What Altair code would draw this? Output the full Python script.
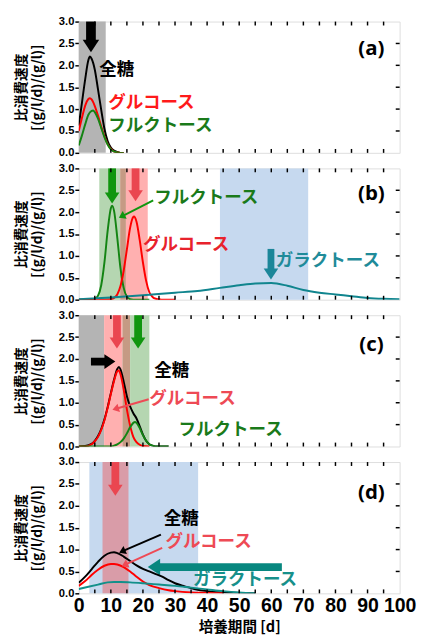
import math
import altair as alt
import pandas as pd

# ---------------- data ----------------
X_LABELS = [0, 10, 20, 30, 40, 50, 60, 70, 80, 90, 100]
X_TICKS = [5, 10, 15, 20, 25, 30, 35, 40, 45, 50, 55, 60, 65, 70, 75, 80, 85, 90, 95]
Y_TICKS = [0.0, 0.5, 1.0, 1.5, 2.0, 2.5, 3.0]
Y_TITLE = ["比消費速度", "[(g/l/d)/(g/l)]"]
X_TITLE = "培養期間 [d]"
PANEL_TAGS = ["(a)", "(b)", "(c)", "(d)"]

# panel (a)
a_total_x = [0, 1, 2, 3, 3.5, 4, 5, 6, 7, 8, 9, 10, 11, 12, 13, 14]
a_total_y = [0.62, 1.15, 1.68, 2.12, 2.2, 2.15, 1.9, 1.45, 0.98, 0.55, 0.27, 0.12, 0.05, 0.02, 0.0, 0.0]
a_glc_x = [0, 1, 2, 3, 3.5, 4, 5, 6, 7, 8, 9, 10, 11, 12, 13, 14]
a_glc_y = [0.5, 0.8, 1.08, 1.23, 1.25, 1.22, 1.07, 0.85, 0.6, 0.38, 0.2, 0.09, 0.03, 0.01, 0.0, 0.0]
a_fru_x = [0, 1, 2, 3, 4, 4.5, 5, 6, 7, 8, 9, 10, 11, 12, 13, 14]
a_fru_y = [0.17, 0.4, 0.65, 0.87, 0.96, 0.97, 0.93, 0.78, 0.57, 0.36, 0.19, 0.08, 0.03, 0.01, 0.0, 0.0]

# panel (b)
b_fru_x = [0, 4, 5, 6, 7, 8, 9, 10, 10.4, 11, 12, 13, 14, 15, 16, 17, 18, 22]
b_fru_y = [0.0, 0.0, 0.02, 0.09, 0.33, 0.85, 1.57, 2.09, 2.15, 2.03, 1.42, 0.72, 0.27, 0.07, 0.01, 0.0, 0.0, 0.0]
b_glc_x = [0, 8, 10, 11, 12, 13, 14, 15, 16, 17, 17.2, 18, 19, 20, 21, 22, 23, 24, 25, 26, 30]
b_glc_y = [0.0, 0.0, 0.01, 0.04, 0.12, 0.31, 0.66, 1.15, 1.64, 1.89, 1.9, 1.78, 1.36, 0.85, 0.43, 0.17, 0.06, 0.02, 0.01, 0.0, 0.0]
b_gal_x = [0, 10, 20, 30, 37, 44, 50, 55, 60, 65, 70, 75, 80, 85, 90, 95, 100]
b_gal_y = [0.01, 0.05, 0.1, 0.16, 0.2, 0.27, 0.33, 0.37, 0.38, 0.32, 0.22, 0.16, 0.12, 0.08, 0.04, 0.02, 0.01]

# panel (c)
c_total_x = [0, 2, 4, 5, 6, 7, 8, 9, 10, 11, 12, 12.5, 13, 14, 15, 16, 17, 18, 19, 20, 21, 22, 23, 24, 28]
c_total_y = [0.0, 0.01, 0.06, 0.13, 0.24, 0.4, 0.62, 0.9, 1.22, 1.53, 1.77, 1.82, 1.76, 1.48, 1.15, 0.92, 0.76, 0.64, 0.46, 0.27, 0.13, 0.05, 0.02, 0.0, 0.0]
c_glc_x = [0, 2, 4, 5, 6, 7, 8, 9, 10, 11, 12, 12.5, 13, 14, 15, 16, 17, 18, 19, 20, 22]
c_glc_y = [0.0, 0.0, 0.05, 0.12, 0.22, 0.38, 0.6, 0.88, 1.2, 1.5, 1.72, 1.74, 1.65, 1.3, 0.85, 0.48, 0.22, 0.1, 0.04, 0.01, 0.0]
c_fru_x = [0, 10, 11, 12, 13, 14, 15, 16, 17, 17.5, 18, 19, 20, 21, 22, 23, 24, 28]
c_fru_y = [0.0, 0.0, 0.02, 0.05, 0.1, 0.18, 0.3, 0.44, 0.54, 0.56, 0.54, 0.42, 0.26, 0.13, 0.05, 0.02, 0.0, 0.0]

# panel (d)
d_total_x = [0, 2, 4, 6, 8, 10, 11, 12, 14, 16, 18, 20, 22, 24, 26, 28, 30, 33, 36, 40, 45, 50, 55]
d_total_y = [0.24, 0.38, 0.55, 0.72, 0.86, 0.93, 0.94, 0.92, 0.84, 0.74, 0.64, 0.56, 0.5, 0.44, 0.38, 0.3, 0.23, 0.16, 0.1, 0.05, 0.02, 0.01, 0.0]
d_glc_x = [0, 2, 4, 6, 8, 10, 11, 12, 14, 16, 18, 20, 22, 25, 28, 30, 35, 40, 45]
d_glc_y = [0.17, 0.28, 0.42, 0.54, 0.63, 0.67, 0.67, 0.66, 0.6, 0.5, 0.38, 0.27, 0.19, 0.12, 0.07, 0.05, 0.02, 0.01, 0.0]
d_gal_x = [0, 3, 6, 9, 11, 13, 16, 20, 25, 30, 35, 40, 45, 50, 55]
d_gal_y = [0.1, 0.15, 0.2, 0.25, 0.26, 0.26, 0.25, 0.23, 0.2, 0.17, 0.13, 0.09, 0.05, 0.02, 0.0]

# shaded periods: (start, end, kind)
a_bands = [(0, 8.4, "grey")]
b_bands = [(6.4, 12.9, "green"), (12.9, 14.7, "mix"), (14.7, 21.5, "red"), (44, 71.5, "blue")]
c_bands = [(0, 7.9, "grey"), (7.9, 13.6, "red"), (13.6, 16.0, "mix"), (16.0, 22.0, "green")]
d_bands = [(3.3, 37.2, "blue"), (7.4, 15.5, "mauve")]

# block arrows: (tail x, tail y, tip x, tip y, kind)
a_blocks = [(3.8, 3.0, 3.8, 2.3, "black")]
b_blocks = [(10.4, 3.0, 10.4, 2.2, "green"), (17.7, 3.0, 17.7, 2.25, "red"), (59.9, 1.16, 59.9, 0.46, "tealb")]
c_blocks = [(3.8, 1.94, 11.4, 1.94, "black"), (11.9, 3.0, 11.9, 2.24, "red"), (18.5, 3.0, 18.5, 2.24, "green")]
d_blocks = [(11.4, 3.0, 11.4, 2.23, "red"), (63.3, 0.6, 21.5, 0.6, "teald")]

# thin pointer arrows: (tail x, tail y, tip x, tip y, kind)
a_thin = []
b_thin = [(23.2, 2.27, 12.5, 1.87, "green")]
c_thin = [(21.8, 1.08, 10.5, 0.84, "pink")]
d_thin = [(25.6, 1.34, 12.6, 0.93, "black"), (26.0, 1.04, 13.4, 0.62, "pink")]

# labels: (text, left x, centre y, kind)
a_labels = [("全糖", 6.4, 1.88, "black"), ("グルコース", 9.2, 1.13, "red"), ("フルクトース", 9.2, 0.6, "green")]
b_labels = [("フルクトース", 23.5, 2.31, "green"), ("グルコース", 20.0, 1.24, "red2"), ("ガラクトース", 61.4, 0.87, "tealb")]
c_labels = [("全糖", 23.5, 1.72, "black"), ("グルコース", 22.0, 1.09, "pink"), ("フルクトース", 31.1, 0.38, "green")]
d_labels = [("全糖", 26.5, 1.69, "black"), ("グルコース", 27.0, 1.18, "pink"), ("ガラクトース", 35.6, 0.31, "teald")]

# ---------------- style ----------------
W, H = 330, 135
PXX, PXY = W / 100.0, H / 3.0
JP = "Noto Sans CJK JP"
NUM = "'Liberation Sans Narrow', 'Liberation Sans', Arial, sans-serif"
YNUM = "'Liberation Sans', Arial, sans-serif"
TAGF = "Open Sans"

BAND_COL = {"grey": "#b4b4b4", "green": "#b5d6b1", "red": "#ffb0b0", "mix": "#c59a84",
            "blue": "#c6d9ef", "mauve": "#d99ca8"}
LINE_COL = {"total": "#000000", "glc": "#ff0000", "fru": "#138413", "galb": "#10858e", "gald": "#12908a"}
ARROW_COL = {"black": "#000000", "green": "#10960f", "red": "#ea4650", "tealb": "#1b8699",
             "teald": "#08877f", "pink": "#ee4a55"}
TEXT_COL = {"black": "#000000", "red": "#ff1a1a", "red2": "#e8222c", "green": "#1a7a1a",
            "pink": "#ee4a55", "tealb": "#1f8b99", "teald": "#17908a"}

XS = alt.Scale(domain=[0, 100], nice=False, zero=False)
YS = alt.Scale(domain=[0, 3], nice=False, zero=False)
HEAD = "M0,0L-1,-1.5L1,-1.5Z"


def arrow_layers(items, XA, YA, thin):
    layers = []
    for (x1, y1, x2, y2, kind) in items:
        col = ARROW_COL[kind]
        vertical = x1 == x2
        if thin:
            head_w, shaft = 9, 2
        elif kind == "black" and vertical:
            head_w, shaft = 17, 10
        elif kind == "teald":
            head_w, shaft = 17, 8
        elif kind == "tealb":
            head_w, shaft = 15, 7
        else:
            head_w, shaft = 15, 8
        head_len = 1.5 * head_w / 2.0
        dxp, dyp = (x2 - x1) * PXX, -(y2 - y1) * PXY
        L = math.hypot(dxp, dyp)
        ux, uy = dxp / L, dyp / L
        bx = x2 - ux * (head_len - 1) / PXX
        by = y2 + uy * (head_len - 1) / PXY
        ang = math.degrees(math.atan2(-ux, uy)) % 360
        df = pd.DataFrame({"x1": [x1], "y1": [y1], "bx": [bx], "by": [by], "x2": [x2], "y2": [y2]})
        layers.append(alt.Chart(df).mark_rule(color=col, strokeWidth=shaft, strokeCap="butt").encode(
            x=alt.X("x1:Q", scale=XS, axis=XA), y=alt.Y("y1:Q", scale=YS, axis=YA),
            x2="bx:Q", y2="by:Q"))
        layers.append(alt.Chart(df).mark_point(shape=HEAD, filled=True, opacity=1, color=col,
                                               size=head_w * head_w, angle=ang, strokeWidth=0).encode(
            x=alt.X("x2:Q", scale=XS, axis=XA), y=alt.Y("y2:Q", scale=YS, axis=YA)))
    return layers


def panel(curves, bands, blocks, thins, labels, tag, tag_y, bottom):
    if bottom:
        XA = alt.Axis(values=X_LABELS, format="d", labelFont=NUM, labelFontSize=20,
                      labelFontWeight="bold", labelColor="black", ticks=False, domain=False,
                      grid=False, labelPadding=3, labelFlush=False, title=X_TITLE, titleFont=JP,
                      titleFontSize=15, titleFontWeight="bold", titleColor="black", titlePadding=4)
    else:
        XA = None
    YA = alt.Axis(values=Y_TICKS, format=".1f", labelFont=YNUM, labelFontSize=11.5,
                  labelFontWeight="bold", labelColor="black", tickSize=4, tickWidth=1.5,
                  tickColor="black", domain=False, grid=False, labelPadding=1,
                  title=Y_TITLE, titleFont=JP, titleFontSize=14, titleFontWeight="bold",
                  titleColor="black", titlePadding=14, titleLineHeight=17)
    layers = []
    bdf = pd.DataFrame(bands, columns=["x1", "x2", "kind"])
    layers.append(alt.Chart(bdf).mark_rect(opacity=1).encode(
        x=alt.X("x1:Q", scale=XS, axis=XA), x2="x2:Q",
        color=alt.Color("kind:N", scale=alt.Scale(domain=list(BAND_COL.keys()),
                                                  range=list(BAND_COL.values())), legend=None)))
    layers += arrow_layers(blocks, XA, YA, False)
    for (xs, ys, key) in curves:
        cdf = pd.DataFrame({"x": xs, "y": ys})
        layers.append(alt.Chart(cdf).mark_line(color=LINE_COL[key], strokeWidth=2,
                                               interpolate="monotone", clip=True).encode(
            x=alt.X("x:Q", scale=XS, axis=XA),
            y=alt.Y("y:Q", scale=YS, axis=YA)))
    layers += arrow_layers(thins, XA, YA, True)
    for kind in sorted(set(l[3] for l in labels)):
        ldf = pd.DataFrame([l for l in labels if l[3] == kind], columns=["t", "x", "y", "k"])
        layers.append(alt.Chart(ldf).mark_text(align="left", baseline="middle", font=JP,
                                               fontSize=18, fontWeight="bold",
                                               color=TEXT_COL[kind]).encode(
            x=alt.X("x:Q", scale=XS, axis=XA), y=alt.Y("y:Q", scale=YS, axis=YA), text="t:N"))
    tdf = pd.DataFrame({"t": [tag], "x": [91.2], "y": [tag_y]})
    layers.append(alt.Chart(tdf).mark_text(align="center", baseline="middle", font=TAGF,
                                           fontSize=21, fontWeight="bold", color="black").encode(
        x=alt.X("x:Q", scale=XS, axis=XA), y=alt.Y("y:Q", scale=YS, axis=YA), text="t:N"))
    # inside ticks: top, bottom, right
    xt = pd.DataFrame({"t": X_TICKS})
    layers.append(alt.Chart(xt).mark_rule(color="black", strokeWidth=1.5).encode(
        x=alt.X("t:Q", scale=XS, axis=XA), y=alt.value(0), y2=alt.value(4)))
    layers.append(alt.Chart(xt).mark_rule(color="black", strokeWidth=1.5).encode(
        x=alt.X("t:Q", scale=XS, axis=XA), y=alt.value(H), y2=alt.value(H - 4)))
    yt = pd.DataFrame({"v": Y_TICKS[1:-1]})
    layers.append(alt.Chart(yt).mark_rule(color="black", strokeWidth=1.5).encode(
        y=alt.Y("v:Q", scale=YS, axis=YA), x=alt.value(W), x2=alt.value(W - 4)))
    return alt.layer(*layers).properties(width=W, height=H)


pa = panel([(a_total_x, a_total_y, "total"), (a_glc_x, a_glc_y, "glc"), (a_fru_x, a_fru_y, "fru")],
           a_bands, a_blocks, a_thin, a_labels, PANEL_TAGS[0], 2.36, False)
pb = panel([(b_fru_x, b_fru_y, "fru"), (b_glc_x, b_glc_y, "glc"), (b_gal_x, b_gal_y, "galb")],
           b_bands, b_blocks, b_thin, b_labels, PANEL_TAGS[1], 2.42, False)
pc = panel([(c_total_x, c_total_y, "total"), (c_glc_x, c_glc_y, "glc"), (c_fru_x, c_fru_y, "fru")],
           c_bands, c_blocks, c_thin, c_labels, PANEL_TAGS[2], 2.31, False)
pd_ = panel([(d_total_x, d_total_y, "total"), (d_glc_x, d_glc_y, "glc"), (d_gal_x, d_gal_y, "gald")],
            d_bands, d_blocks, d_thin, d_labels, PANEL_TAGS[3], 2.3, True)

chart = alt.vconcat(pa, pb, pc, pd_, spacing=16, bounds="flush").properties(
    padding={"left": 14, "top": 6, "right": 5, "bottom": 3}
).configure_view(stroke="black", strokeWidth=2).configure(background="white")

chart.save("out.html", embed_options={"renderer": "svg", "actions": False})
